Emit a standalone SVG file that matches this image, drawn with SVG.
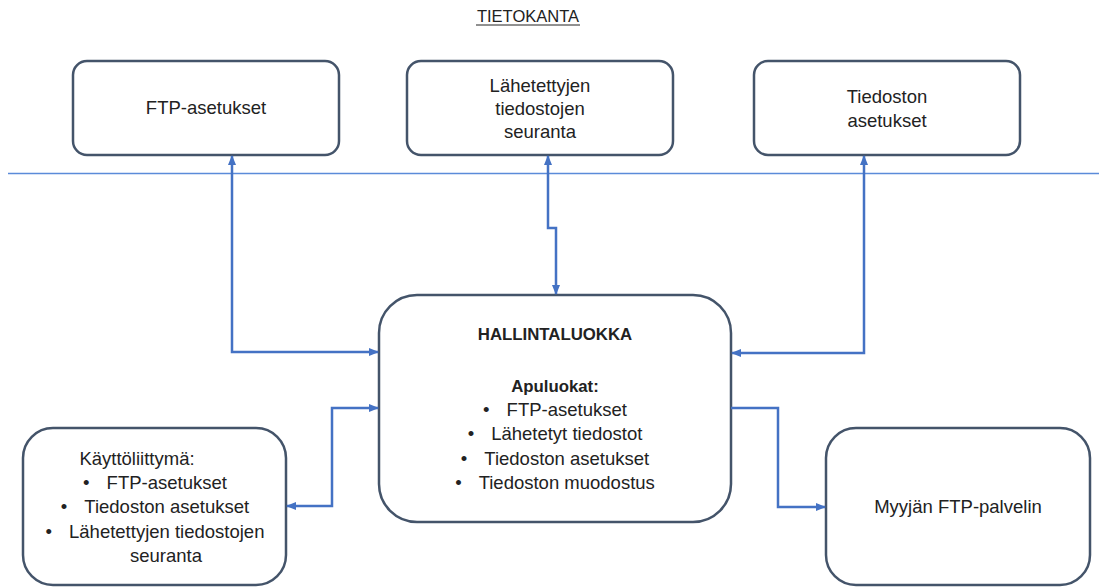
<svg xmlns="http://www.w3.org/2000/svg" width="1099" height="587" viewBox="0 0 1099 587">
  <style>
    .box { fill: #ffffff; stroke: #44546A; stroke-width: 2.5; }
    .lbl { font-family: "Liberation Sans", Arial, sans-serif; font-size: 18.5px; fill: #222222; text-anchor: middle; }
    .bold { font-weight: bold; font-size: 16.8px; }
    .head { font-size: 16.5px; }
    .link { fill: none; stroke: #4472C4; stroke-width: 2.5; }
    .divider { stroke: #5B8BD9; stroke-width: 1.5; }
  </style>
  <defs>
    <marker id="arrow" markerUnits="userSpaceOnUse" markerWidth="10" markerHeight="10" viewBox="0 0 10 10" refX="9" refY="5" orient="auto-start-reverse">
      <path d="M0,1 L10,5 L0,9 Z" fill="#4472C4"/>
    </marker>
  </defs>

  <rect width="1099" height="587" fill="#ffffff"/>

  <!-- database title and separator -->
  <g id="title">
    <text class="lbl head" x="528" y="22">TIETOKANTA</text>
    <line x1="476" y1="25" x2="580" y2="25" stroke="#222222" stroke-width="1"/>
  </g>
  <line class="divider" x1="8" y1="173.5" x2="1099" y2="173.5"/>

  <!-- database tables -->
  <g id="ftp-settings">
    <rect class="box" x="73" y="61" width="266" height="94" rx="14"/>
    <text class="lbl" x="206" y="114">FTP-asetukset</text>
  </g>
  <g id="sent-files">
    <rect class="box" x="407" y="61" width="266" height="94" rx="14"/>
    <text class="lbl" x="540" y="92">Lähetettyjen</text>
    <text class="lbl" x="540" y="115">tiedostojen</text>
    <text class="lbl" x="540" y="138">seuranta</text>
  </g>
  <g id="file-settings">
    <rect class="box" x="754" y="61" width="266" height="94" rx="14"/>
    <text class="lbl" x="887" y="103">Tiedoston</text>
    <text class="lbl" x="887" y="127">asetukset</text>
  </g>

  <!-- management class -->
  <g id="management">
    <rect class="box" x="379" y="295" width="352" height="227" rx="38"/>
    <text class="lbl bold" x="555" y="340">HALLINTALUOKKA</text>
    <text class="lbl bold" x="555" y="392">Apuluokat:</text>
    <text class="lbl" x="555" y="416">•<tspan dx="17">FTP-asetukset</tspan></text>
    <text class="lbl" x="555" y="440">•<tspan dx="17">Lähetetyt tiedostot</tspan></text>
    <text class="lbl" x="555" y="465">•<tspan dx="17">Tiedoston asetukset</tspan></text>
    <text class="lbl" x="555" y="489">•<tspan dx="17">Tiedoston muodostus</tspan></text>
  </g>

  <!-- user interface -->
  <g id="ui">
    <rect class="box" x="23" y="428" width="263" height="157" rx="30"/>
    <text class="lbl" x="137" y="465">Käyttöliittymä:</text>
    <text class="lbl" x="155" y="489">•<tspan dx="17">FTP-asetukset</tspan></text>
    <text class="lbl" x="155" y="513">•<tspan dx="17">Tiedoston asetukset</tspan></text>
    <text class="lbl" x="155" y="538">•<tspan dx="17">Lähetettyjen tiedostojen</tspan></text>
    <text class="lbl" x="166" y="562">seuranta</text>
  </g>

  <!-- vendor server -->
  <g id="vendor-ftp">
    <rect class="box" x="826" y="428" width="264" height="157" rx="30"/>
    <text class="lbl" x="958" y="513">Myyjän FTP-palvelin</text>
  </g>

  <!-- connectors -->
  <g id="connectors">
    <path class="link" d="M232,156 V352 H378" marker-start="url(#arrow)" marker-end="url(#arrow)"/>
    <path class="link" d="M548,156 V228 H556 V294" marker-start="url(#arrow)" marker-end="url(#arrow)"/>
    <path class="link" d="M864,156 V353 H732" marker-start="url(#arrow)" marker-end="url(#arrow)"/>
    <path class="link" d="M378,408 H332 V506 H287" marker-start="url(#arrow)" marker-end="url(#arrow)"/>
    <path class="link" d="M731,408 H778 V507 H825" marker-end="url(#arrow)"/>
  </g>
</svg>
